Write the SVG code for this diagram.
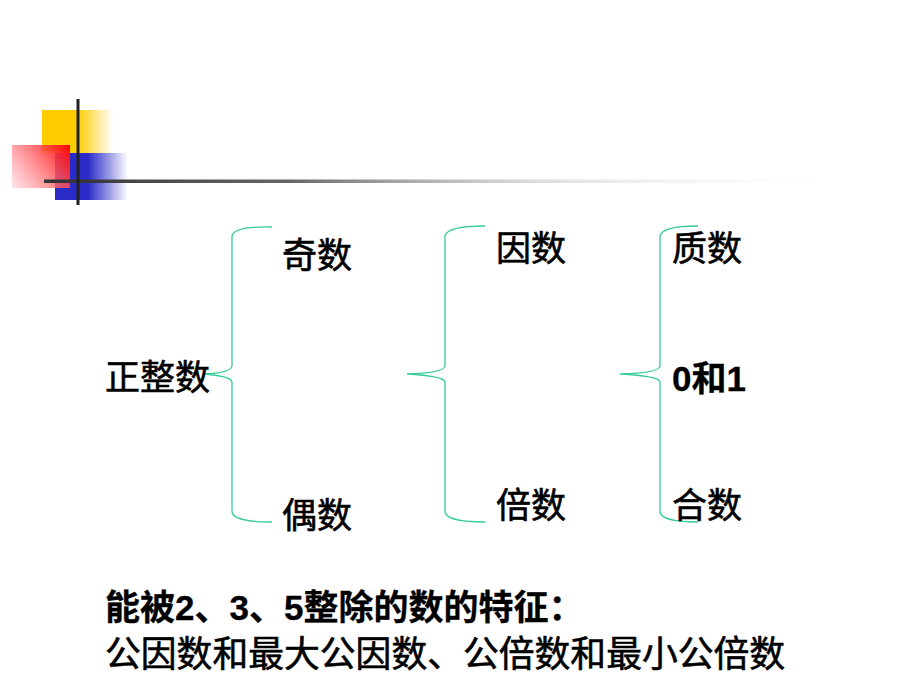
<svg xmlns="http://www.w3.org/2000/svg" width="920" height="690" viewBox="0 0 920 690">
<defs>
<linearGradient id="gy" x1="42" y1="0" x2="113" y2="0" gradientUnits="userSpaceOnUse">
<stop offset="0" stop-color="#FFCC00"/><stop offset="0.5" stop-color="#FFCC00"/><stop offset="1" stop-color="#FFCC00" stop-opacity="0"/>
</linearGradient>
<linearGradient id="gb" x1="55" y1="0" x2="128" y2="0" gradientUnits="userSpaceOnUse">
<stop offset="0" stop-color="#2A2AC8"/><stop offset="0.45" stop-color="#2A2AC8"/><stop offset="1" stop-color="#2A2AC8" stop-opacity="0"/>
</linearGradient>
<linearGradient id="gr" x1="70" y1="145" x2="12" y2="188" gradientUnits="userSpaceOnUse">
<stop offset="0" stop-color="#FF0000"/><stop offset="1" stop-color="#FFD0D8" stop-opacity="0.6"/>
</linearGradient>
<linearGradient id="gl" x1="44" y1="0" x2="866" y2="0" gradientUnits="userSpaceOnUse">
<stop offset="0" stop-color="#333333"/><stop offset="0.3" stop-color="#555555" stop-opacity="0.9"/><stop offset="0.6" stop-color="#bbbbbb" stop-opacity="0.5"/><stop offset="1" stop-color="#ffffff" stop-opacity="0"/>
</linearGradient>
</defs>
<style>
.t{font-family:"Noto Sans CJK SC","Liberation Sans",sans-serif;font-size:35px;fill:#000;stroke:#000;stroke-width:0.6}
.b{font-weight:bold;font-family:"Liberation Sans","Noto Sans CJK SC",sans-serif;stroke-width:0.3}
.br{fill:none;stroke:#33CC99;stroke-width:1.3}
</style>
<g id="logo">
<rect x="42" y="110" width="71" height="43" fill="url(#gy)"/>
<rect x="55" y="153" width="73" height="47" fill="url(#gb)"/>
<rect x="12" y="145" width="58" height="43" fill="url(#gr)"/>
<rect x="44" y="179.5" width="822" height="3.5" fill="url(#gl)"/>
<rect x="76.5" y="99" width="3" height="106" fill="#222"/>
</g>
<g id="connectors">
<path class="br" d="M272,227 Q234,226 232,236 L232,366 Q231,373 203,374 Q231,376 232,382 L232,512 Q234,522 272,522"/>
<path class="br" d="M485,226 Q447,226 445,236 L445,366 Q444,373 407,374 Q444,376 445,382 L445,512 Q447,522 485,522"/>
<path class="br" d="M698,226 Q662,226 660,236 L660,366 Q659,373 620,374 Q659,376 660,382 L660,512 Q662,522 698,522"/>
</g>
<g id="n-zhengzhengshu"><text class="t" x="105" y="390">正整数</text></g>
<g id="n-jishu"><text class="t" x="282" y="268">奇数</text></g>
<g id="n-oushu"><text class="t" x="282" y="528">偶数</text></g>
<g id="n-yinshu"><text class="t" x="496" y="261">因数</text></g>
<g id="n-beishu"><text class="t" x="496" y="518">倍数</text></g>
<g id="n-zhishu"><text class="t" x="672" y="261">质数</text></g>
<g id="n-01"><text class="t b" x="672" y="391">0和1</text></g>
<g id="n-heshu"><text class="t" x="672" y="518">合数</text></g>
<g id="notes">
<text class="t b" x="105" y="620">能被2、3、5整除的数的特征：</text>
<text class="t" x="105" y="667" style="font-size:35.8px">公因数和最大公因数、公倍数和最小公倍数</text>
</g>
</svg>
